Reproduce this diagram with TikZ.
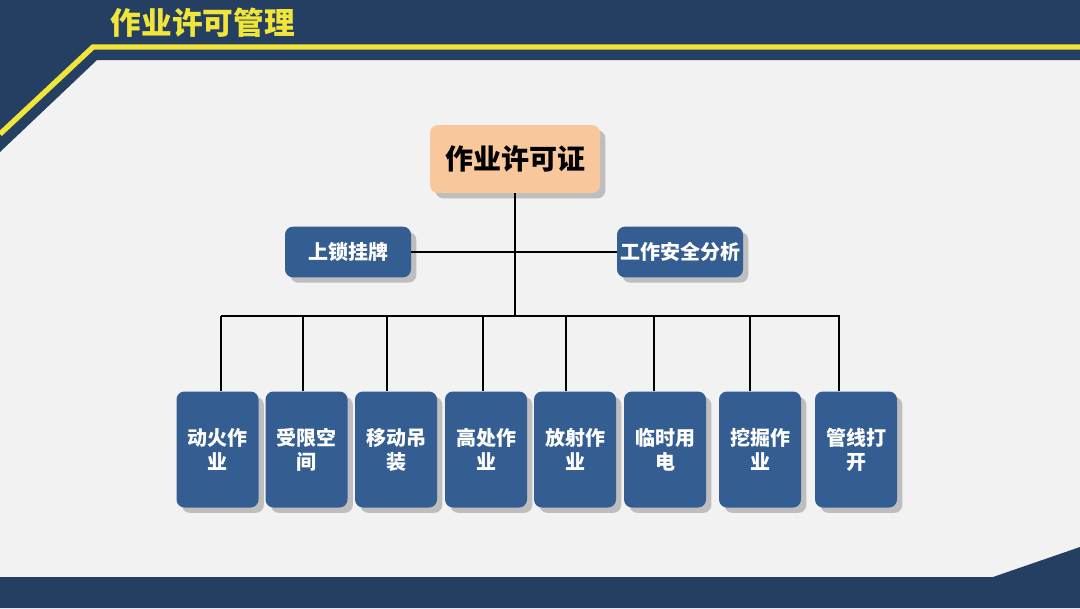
\documentclass[tikz,border=0pt]{standalone}
\usepackage{fontspec}
\setmainfont{Noto Sans CJK SC}
\usetikzlibrary{positioning}
\usetikzlibrary{calc}
\usetikzlibrary{shadows}
\definecolor{navy}{RGB}{37,63,99}
\definecolor{lemon}{RGB}{242,229,58}
\definecolor{paper}{RGB}{242,242,242}
\definecolor{boxblue}{RGB}{52,94,146}
\definecolor{peach}{RGB}{248,199,155}
\definecolor{shade}{RGB}{190,190,190}
\tikzset{
    shadowed/.style={drop shadow={shadow xshift=4pt, shadow yshift=-4pt, fill=shade, opacity=1}},
    rootbox/.style={shadowed, fill=peach, rounded corners=6pt, inner sep=0pt,
        minimum width=127.5pt, minimum height=51pt, font=\fontsize{21}{25}\selectfont\bfseries},
    midbox/.style={shadowed, fill=boxblue, rounded corners=6pt, inner sep=0pt, text=white,
        minimum width=94.5pt, minimum height=38pt, font=\fontsize{15}{18}\selectfont\bfseries},
    leafbox/.style={shadowed, fill=boxblue, rounded corners=6pt, inner sep=0pt, text=white,
        minimum width=61.5pt, minimum height=87pt, align=center, font=\fontsize{15}{18}\selectfont\bfseries},
    wire/.style={line width=2.2pt, black},
}

\begin{document}
\begin{tikzpicture}[x=0.75pt, y=-0.75pt]
    \useasboundingbox (0,0) rectangle (1080,608);

    % background and banners
    \fill[paper] (0,0) rectangle (1080,608);
    \fill[navy] (0,0) -- (1080,0) -- (1080,60) -- (97,60) -- (0,152) -- cycle;
    \draw[lemon, line width=4pt] (0,134) -- (93,47) -- (1080,47);
    \fill[navy] (0,577) -- (993,577) -- (1080,547) -- (1080,608) -- (0,608) -- cycle;
    \node[lemon, font=\fontsize{23}{27}\selectfont\bfseries, anchor=west] (title) at (106,23) {作业许可管理};

    % tree
    \node[rootbox] (root) at (515,159) {作业许可证};
    \node[midbox] (lock) at (348,252) {上锁挂牌};
    \node[midbox] (jsa) at (680,252) {工作安全分析};
    \coordinate (hub) at (515,316);
    \coordinate (busL) at (221,316);
    \coordinate (busR) at (840,316);

    \node[leafbox] (fire) at (217.5,449.5) {动火作\\业};
    \node[leafbox] (space) at (306.5,449.5) {受限空\\间};
    \node[leafbox] (crane) at (396,449.5) {移动吊\\装};
    \node[leafbox] (height) at (486,449.5) {高处作\\业};
    \node[leafbox] (ray) at (575,449.5) {放射作\\业};
    \node[leafbox] (power) at (665,449.5) {临时用\\电};
    \node[leafbox] (dig) at (760,449.5) {挖掘作\\业};
    \node[leafbox] (pipe) at (856,449.5) {管线打\\开};

    \draw[wire] (root.south) -- (hub);
    \draw[wire] (lock.east) -- (jsa.west);
    \draw[wire] (busL) -- (busR);
    \foreach \leaf/\s in {fire/3.5, space/-3.5, crane/-9, height/-3, ray/-9, power/-11, dig/-10, pipe/-17}
        \draw[wire] ([xshift=\s*0.75pt]\leaf.north) -- ([xshift=\s*0.75pt]\leaf.north |- hub);
\end{tikzpicture}
\end{document}
